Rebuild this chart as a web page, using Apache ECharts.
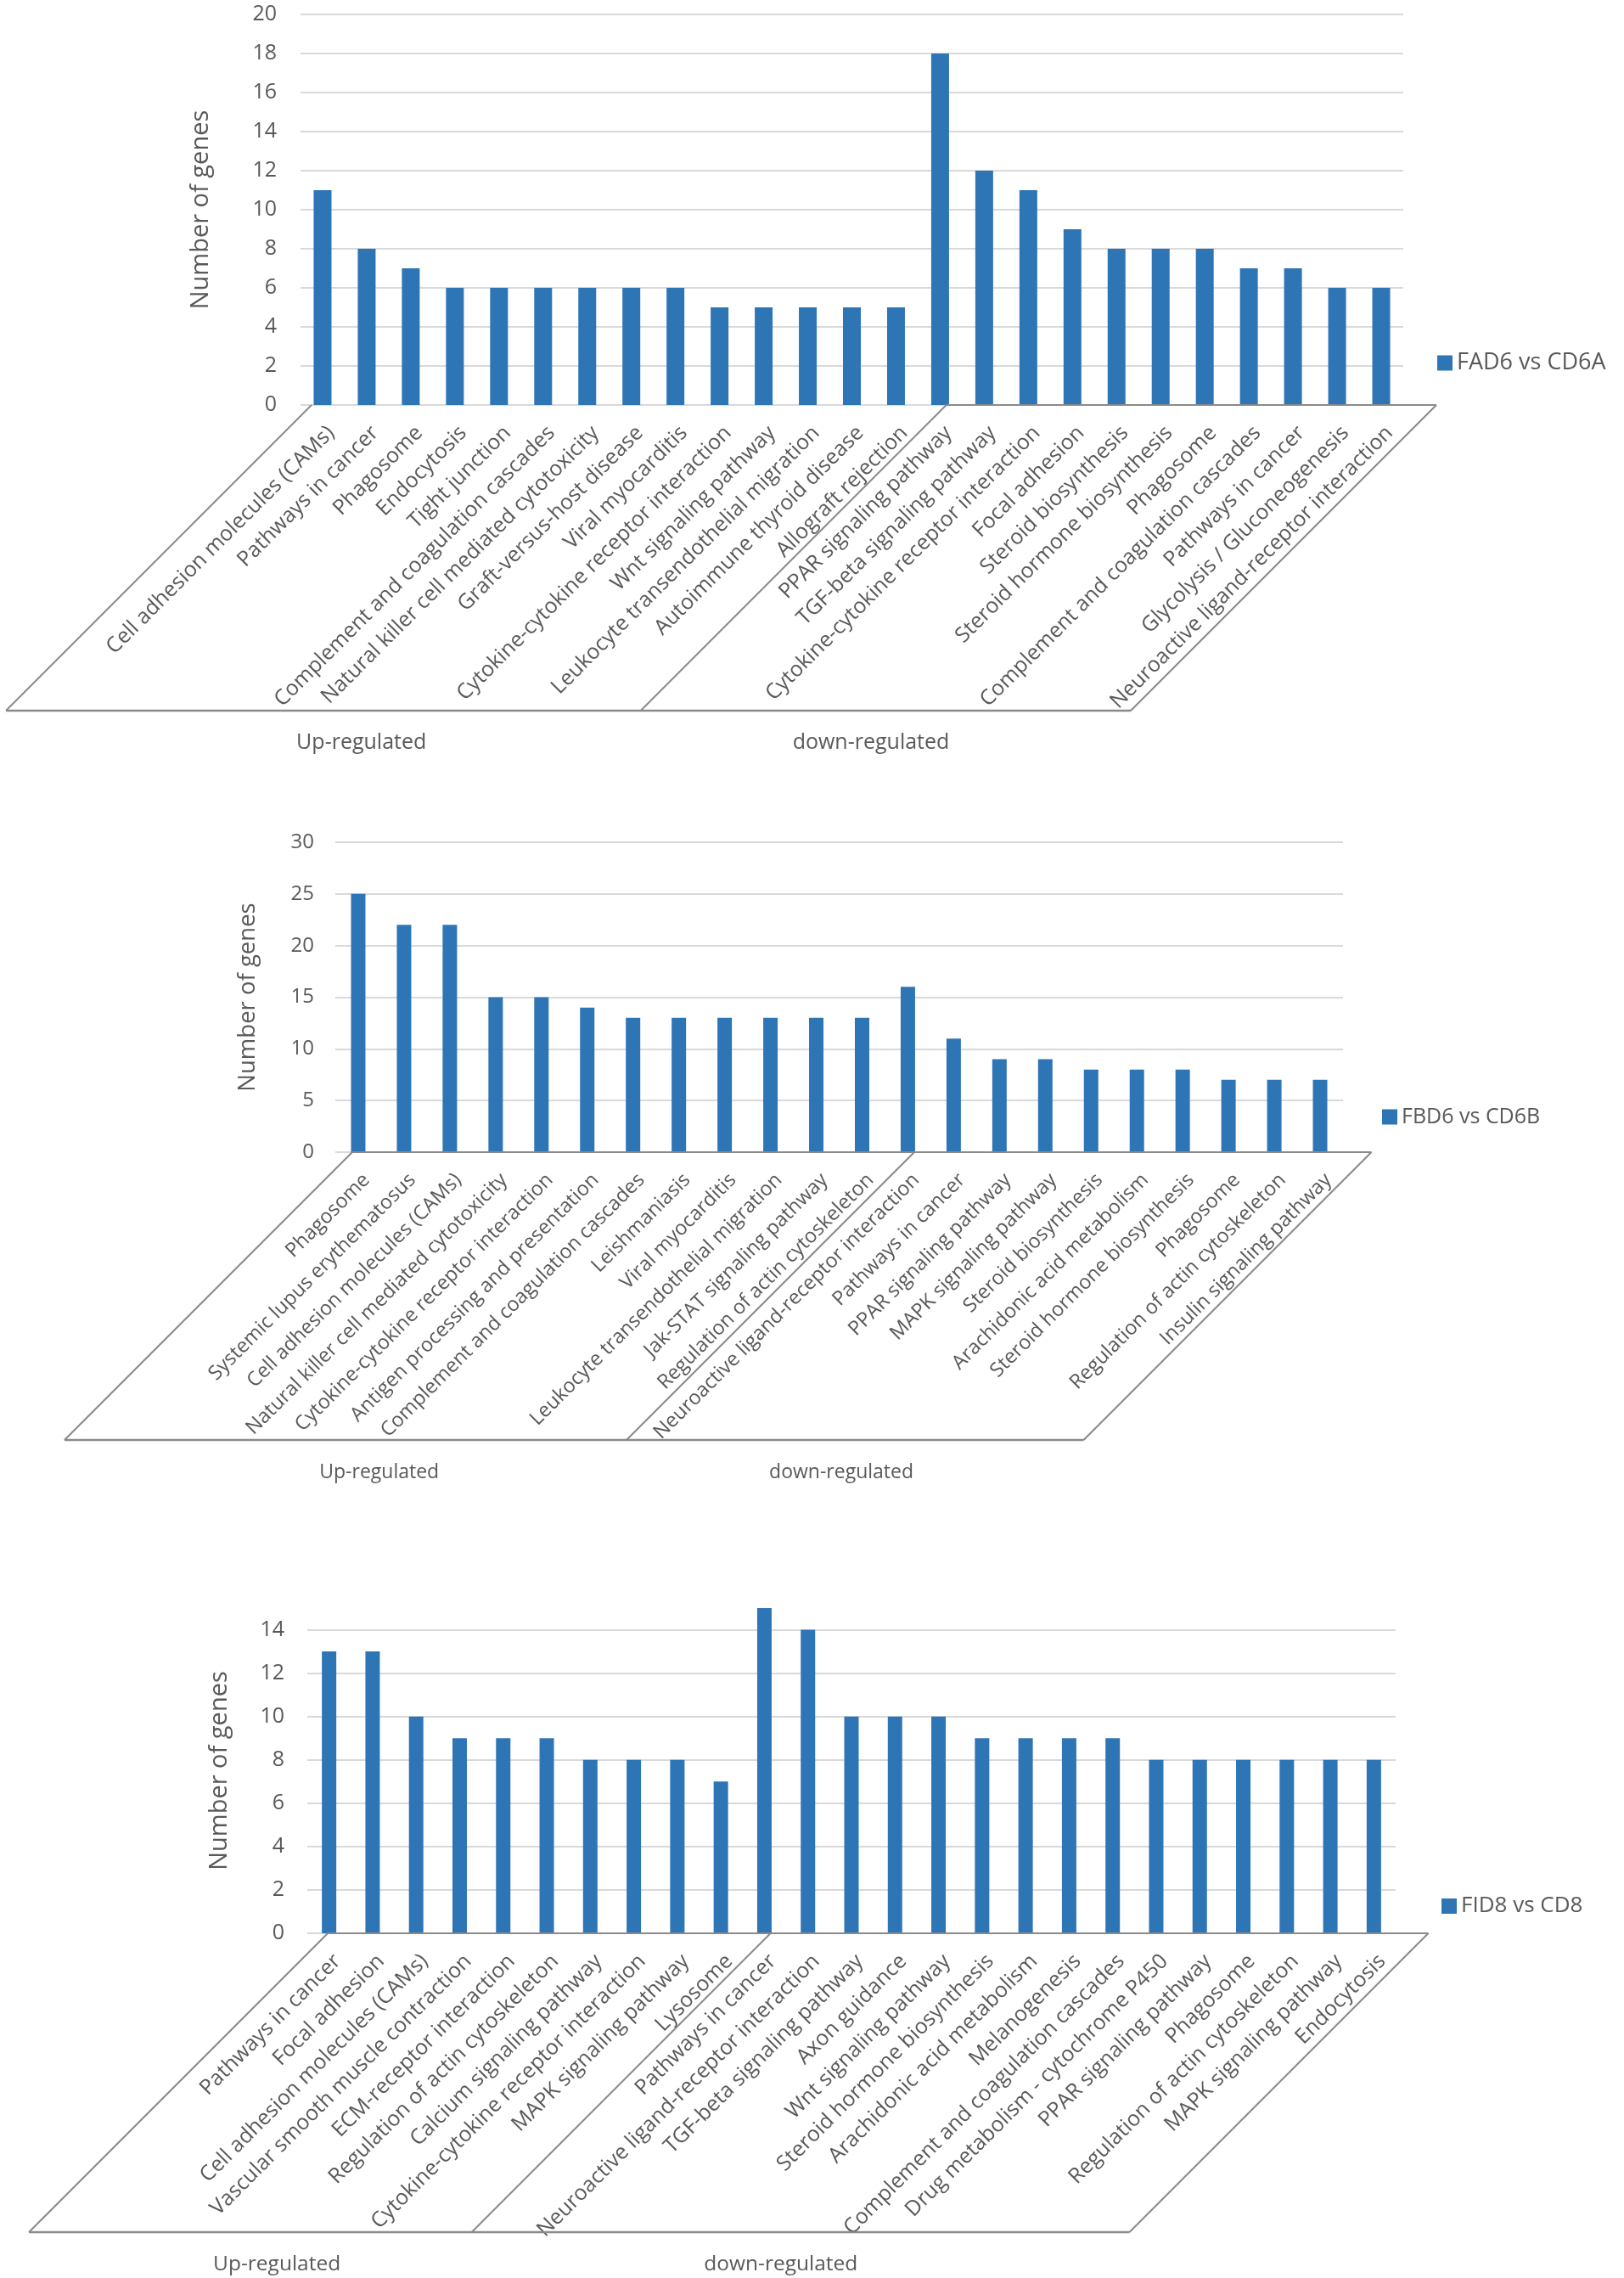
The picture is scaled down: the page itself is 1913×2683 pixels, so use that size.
<!DOCTYPE html>
<html>
<head>
<meta charset="utf-8">
<script src="https://cdn.jsdelivr.net/npm/echarts/dist/echarts.min.js"></script>
<style>
  html, body { margin: 0; padding: 0; background: #fff; }
  #figure-block { width: 1913px; height: 2683px; }
</style>
</head>
<body>
<div id="figure-block"></div>
<script>
// ------------------- data ------------------------
const seriesNames = ['FAD6 vs CD6A', 'FBD6 vs CD6B', 'FID8 vs CD8'];
const groupNames = ['Up-regulated', 'down-regulated'];

// FAD6 vs CD6A
const up1Names = ['Cell adhesion molecules (CAMs)', 'Pathways in cancer', 'Phagosome', 'Endocytosis',
    'Tight junction', 'Complement and coagulation cascades', 'Natural killer cell mediated cytotoxicity',
    'Graft-versus-host disease', 'Viral myocarditis', 'Cytokine-cytokine receptor interaction',
    'Wnt signaling pathway', 'Leukocyte transendothelial migration', 'Autoimmune thyroid disease',
    'Allograft rejection'];
const up1Values = [11, 8, 7, 6, 6, 6, 6, 6, 6, 5, 5, 5, 5, 5];
const down1Names = ['PPAR signaling pathway', 'TGF-beta signaling pathway', 'Cytokine-cytokine receptor interaction',
    'Focal adhesion', 'Steroid biosynthesis', 'Steroid hormone biosynthesis', 'Phagosome',
    'Complement and coagulation cascades', 'Pathways in cancer', 'Glycolysis / Gluconeogenesis',
    'Neuroactive ligand-receptor interaction'];
const down1Values = [18, 12, 11, 9, 8, 8, 8, 7, 7, 6, 6];

// FBD6 vs CD6B
const up2Names = ['Phagosome', 'Systemic lupus erythematosus', 'Cell adhesion molecules (CAMs)',
    'Natural killer cell mediated cytotoxicity', 'Cytokine-cytokine receptor interaction',
    'Antigen processing and presentation', 'Complement and coagulation cascades', 'Leishmaniasis',
    'Viral myocarditis', 'Leukocyte transendothelial migration', 'Jak-STAT signaling pathway',
    'Regulation of actin cytoskeleton'];
const up2Values = [25, 22, 22, 15, 15, 14, 13, 13, 13, 13, 13, 13];
const down2Names = ['Neuroactive ligand-receptor interaction', 'Pathways in cancer', 'PPAR signaling pathway',
    'MAPK signaling pathway', 'Steroid biosynthesis', 'Arachidonic acid metabolism',
    'Steroid hormone biosynthesis', 'Phagosome', 'Regulation of actin cytoskeleton',
    'Insulin signaling pathway'];
const down2Values = [16, 11, 9, 9, 8, 8, 8, 7, 7, 7];

// FID8 vs CD8
const up3Names = ['Pathways in cancer', 'Focal adhesion', 'Cell adhesion molecules (CAMs)',
    'Vascular smooth muscle contraction', 'ECM-receptor interaction', 'Regulation of actin cytoskeleton',
    'Calcium signaling pathway', 'Cytokine-cytokine receptor interaction', 'MAPK signaling pathway',
    'Lysosome'];
const up3Values = [13, 13, 10, 9, 9, 9, 8, 8, 8, 7];
const down3Names = ['Pathways in cancer', 'Neuroactive ligand-receptor interaction', 'TGF-beta signaling pathway',
    'Axon guidance', 'Wnt signaling pathway', 'Steroid hormone biosynthesis', 'Arachidonic acid metabolism',
    'Melanogenesis', 'Complement and coagulation cascades', 'Drug metabolism - cytochrome P450',
    'PPAR signaling pathway', 'Phagosome', 'Regulation of actin cytoskeleton', 'MAPK signaling pathway',
    'Endocytosis'];
const down3Values = [15, 14, 10, 10, 10, 9, 9, 9, 9, 8, 8, 8, 8, 8, 8];

// y axis ranges
const yMax = [20, 30, 15];
const yStep = [2, 5, 2];

const ups = [up1Names, up2Names, up3Names];
const cats = [up1Names.concat(down1Names), up2Names.concat(down2Names), up3Names.concat(down3Names)];
const vals = [up1Values.concat(down1Values), up2Values.concat(down2Values), up3Values.concat(down3Values)];

// ------------------- layout ------------------------
const FONT = '"Open Sans", "Noto Sans", sans-serif';
const TXT = '#595959';
const BOX = '#8a8a8a';
const layout = [
    {left: 354, top: 17, width: 1299, height: 460, barW: 21, font: 25, tick: 25, nameSize: 29, nameGap: 103,
     labelGap: 28, legX: 1688, legY: 409, legFont: 27, depth: 360, boxL: 0.25, boxR: 25.75, upTop: false, grpFont: 25},
    {left: 395, top: 992, width: 1187, height: 365, barW: 17, font: 23.5, tick: 24, nameSize: 27.5, nameGap: 89,
     labelGap: 25, legX: 1623, legY: 1298, legFont: 25, depth: 339, boxL: 0.37, boxR: 22.62, upTop: true, grpFont: 23},
    {left: 362, top: 1894, width: 1282, height: 383, barW: 17, font: 25, tick: 25, nameSize: 29, nameGap: 89,
     labelGap: 27, legX: 1693, legY: 2227, legFont: 26, depth: 352, boxL: 0.47, boxR: 25.75, upTop: true, grpFont: 24.5}
];

let myChart = echarts.init(document.getElementById('figure-block'));

let option = {
    animation: false,
    backgroundColor: '#fff',
    textStyle: {fontFamily: FONT},
    legend: [],
    grid: [],
    xAxis: [],
    yAxis: [],
    series: []
};

layout.forEach((L, i) => {
    option.grid.push({left: L.left, top: L.top, width: L.width, height: L.height});
    option.legend.push({
        data: [seriesNames[i]],
        left: L.legX,
        top: L.legY,
        icon: 'rect',
        itemWidth: 18,
        itemHeight: 18,
        textStyle: {color: TXT, fontSize: L.legFont, fontFamily: FONT}
    });
    option.xAxis.push({
        type: 'category',
        gridIndex: i,
        data: cats[i],
        axisLine: {show: false},
        axisTick: {show: false},
        axisLabel: {
            interval: 0,
            rotate: 45,
            margin: 39,
            // push the text a little further up along its own direction
            padding: [0, -14, 0, 0],
            color: TXT,
            fontSize: L.font,
            fontFamily: FONT
        }
    });
    option.yAxis.push({
        type: 'value',
        gridIndex: i,
        min: 0,
        max: yMax[i],
        interval: yStep[i],
        name: 'Number of genes',
        nameLocation: 'middle',
        nameGap: L.nameGap,
        nameTextStyle: {color: TXT, fontSize: L.nameSize, fontFamily: FONT},
        axisLine: {show: false},
        axisTick: {show: false},
        axisLabel: {color: TXT, fontSize: L.tick, margin: L.labelGap, fontFamily: FONT,
            showMaxLabel: yMax[i] % yStep[i] === 0},
        splitLine: {lineStyle: {color: '#d9d9d9', width: 2},
            showMaxLine: yMax[i] % yStep[i] === 0}
    });
    option.series.push({
        name: seriesNames[i],
        type: 'bar',
        xAxisIndex: i,
        yAxisIndex: i,
        barWidth: L.barW,
        color: '#2e75b6',
        data: vals[i]
    });
});

myChart.setOption(option);

// ------------------- group boxes under the axis ------------------------
function drawGroups(){
    let g = [];
    const line = (x1, y1, x2, y2, w) => g.push({
        type: 'line', z: 10, silent: true,
        shape: {x1: x1, y1: y1, x2: x2, y2: y2},
        style: {stroke: BOX, lineWidth: w || 2}
    });
    layout.forEach((L, i) => {
        const nUp = ups[i].length;
        const c0 = myChart.convertToPixel({xAxisIndex: i}, 0);
        const w = myChart.convertToPixel({xAxisIndex: i}, 1) - c0;
        const x0 = c0 - w / 2;
        const y0 = myChart.convertToPixel({yAxisIndex: i}, 0);
        const d = L.depth;
        const yb = y0 + d;
        const xl = x0 + L.boxL * w, xd = x0 + (nUp + 0.64) * w, xr = x0 + L.boxR * w;
        line(xl, y0, xl - d, yb);
        line(xd, y0, xd - d, yb);
        line(xr, y0, xr - d, yb);
        line(L.upTop ? xl : xd, y0, xr, y0);
        line(xl - d, yb, xr - d, yb, 2.5);
        const gx = [xl - d + 0.56 * (xd - xl), xd - d + 0.47 * (xr - xd)];
        gx.forEach((x, k) => g.push({
            type: 'text', z: 10, silent: true,
            x: x, y: yb + 38,
            style: {text: groupNames[k], fill: TXT, fontSize: L.grpFont, fontFamily: FONT,
                align: 'center', verticalAlign: 'middle'}
        }));
    });
    myChart.setOption({graphic: g});
}
drawGroups();
</script>
</body>
</html>
